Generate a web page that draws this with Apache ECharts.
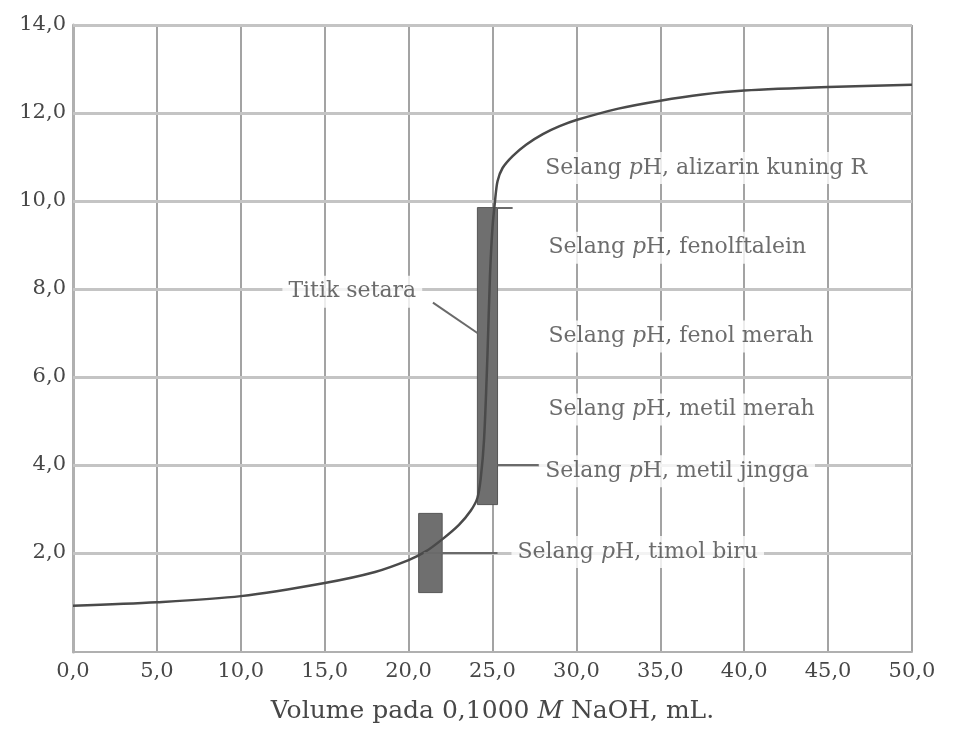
<!DOCTYPE html>
<html>
<head>
<meta charset="utf-8">
<script src="https://cdn.jsdelivr.net/npm/echarts@6/dist/echarts.min.js"></script>
<style>
html,body{margin:0;padding:0;background:#fff;}
#chart{width:956px;height:735px;}
</style>
</head>
<body>
<div id="chart"></div>
<script>
// Titration curve data (volume NaOH in mL, pH)
const volumes = [0, 5, 10, 15, 18, 20, 21, 22, 23, 23.7, 24.1, 24.3, 24.5, 24.7, 24.85, 25.0, 25.15, 25.3, 25.6, 26.2, 27, 28, 29, 30, 32.5, 35, 37.5, 40, 45, 50];
const pHValues = [0.80, 0.88, 1.02, 1.32, 1.57, 1.84, 2.03, 2.31, 2.64, 2.96, 3.25, 3.7, 4.6, 6.5, 8.3, 9.4, 10.0, 10.45, 10.75, 11.02, 11.28, 11.52, 11.7, 11.84, 12.1, 12.28, 12.42, 12.51, 12.59, 12.64];

// Tick labels
const xTicks = [0, 5, 10, 15, 20, 25, 30, 35, 40, 45, 50];
const yTicks = [2, 4, 6, 8, 10, 12, 14];

// Indicator bars: [volFrom, pHFrom, volTo, pHTo]
const barLarge = [24.1, 3.1, 25.3, 9.85];
const barSmall = [20.6, 1.1, 22.0, 2.9];

// Annotation labels
const indicatorNames = ['alizarin kuning R', 'fenolftalein', 'fenol merah', 'metil merah', 'metil jingga', 'timol biru'];
const indicatorLabelVol = [27.75, 27.95, 27.95, 27.95, 27.75, 26.1];
const indicatorLabelPH = [10.75, 8.94, 6.92, 5.26, 3.86, 2.02];
const eqLabel = 'Titik setara';
const eqLabelPos = [12.45, 7.94];

// Pointer segments
const pointers = [
  [[21.45, 7.69], [24.1, 7.0]],
  [[20.9, 2.0], [25.3, 2.0]],
  [[25.3, 4.0], [27.75, 4.0]],
  [[25.3, 9.85], [26.2, 9.85]]
];

const FONT = 'DejaVu Serif';
const TXT = '#474747';

const chart = echarts.init(document.getElementById('chart'), null, {renderer: 'canvas'});
const fmt = v => v.toFixed(1).replace('.', ',');

const labelData = indicatorNames.map((n, i) => ({
  value: [indicatorLabelVol[i], indicatorLabelPH[i]],
  label: {formatter: '{n|Selang }{i|p}{n|H, ' + n + '}'}
}));
labelData.push({value: eqLabelPos, label: {formatter: '{n|' + eqLabel + '}'}});

const option = {
  backgroundColor: '#fff',
  animation: false,
  grid: {left: 73, right: 44, top: 25, bottom: 83, containLabel: false},
  xAxis: {
    type: 'value', min: 0, max: 50, interval: 5,
    axisLine: {show: true, onZero: false, lineStyle: {color: '#b0b0b0', width: 2}},
    axisTick: {show: false},
    axisLabel: {formatter: fmt, margin: 9, fontFamily: FONT, fontSize: 21, color: TXT},
    splitLine: {show: true, lineStyle: {color: '#a3a3a3', width: 2}},
    name: '{n|Volume pada 0,1000 }{i|M}{n| NaOH, mL.}',
    nameLocation: 'middle', nameGap: 47,
    nameTextStyle: {
      rich: {
        n: {fontFamily: FONT, fontSize: 25, color: TXT},
        i: {fontFamily: FONT, fontSize: 25, color: TXT, fontStyle: 'italic'}
      }
    }
  },
  yAxis: {
    type: 'value', min: -0.25, max: 14,
    axisLine: {show: true, onZero: false, lineStyle: {color: '#b0b0b0', width: 3}},
    axisTick: {show: false, customValues: yTicks},
    axisLabel: {customValues: yTicks, formatter: fmt, margin: 7, fontFamily: FONT, fontSize: 21, color: TXT},
    splitLine: {show: false}
  },
  series: [
    {
      name: 'grid', type: 'line', data: [], z: 1, silent: true,
      markLine: {
        silent: true, symbol: 'none', z: 1, animation: false,
        label: {show: false},
        lineStyle: {color: '#c4c4c4', width: 3, type: 'solid'},
        data: yTicks.map(v => ({yAxis: v}))
      }
    },
    {
      name: 'bars', type: 'line', data: [], z: 2, silent: true,
      markArea: {
        silent: true, z: 2,
        itemStyle: {color: '#6f6f6f', borderColor: '#555', borderWidth: 1},
        data: [barLarge, barSmall].map(b => [{coord: [b[0], b[1]]}, {coord: [b[2], b[3]]}])
      }
    },
    {
      name: 'pH', type: 'line', z: 3,
      data: volumes.map((v, i) => [v, pHValues[i]]),
      showSymbol: false, symbol: 'none',
      smooth: 0.3,
      lineStyle: {color: '#4a4a4a', width: 2.5}
    },
    {
      name: 'pointers', type: 'line', data: [], z: 4, silent: true,
      markLine: {
        silent: true, symbol: 'none', z: 4, animation: false,
        label: {show: false},
        lineStyle: {color: '#6a6a6a', width: 2, type: 'solid'},
        data: pointers.map(p => [{coord: p[0]}, {coord: p[1]}])
      }
    },
    {
      name: 'labels', type: 'scatter', z: 6, silent: true,
      symbolSize: 1, itemStyle: {color: 'rgba(0,0,0,0)'},
      data: labelData,
      label: {
        show: true, position: 'right', distance: 0,
        backgroundColor: '#fff', padding: [5, 6],
        rich: {
          n: {fontFamily: FONT, fontSize: 22, color: TXT},
          i: {fontFamily: FONT, fontSize: 22, color: TXT, fontStyle: 'italic'}
        }
      }
    }
  ]
};
chart.setOption(option);
</script>
</body>
</html>
